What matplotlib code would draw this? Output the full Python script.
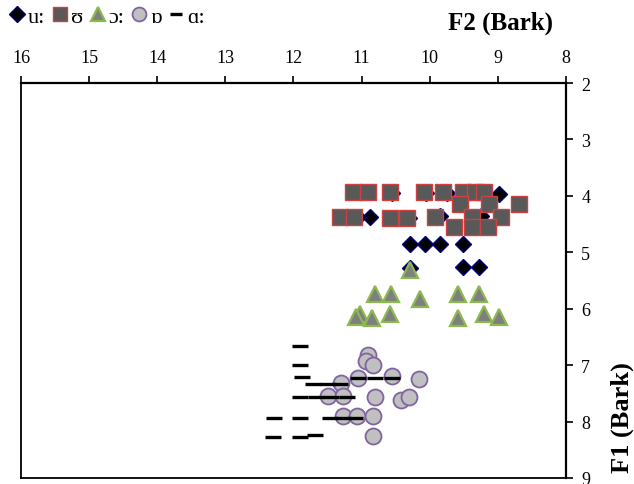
import matplotlib
matplotlib.use("Agg")
import matplotlib.pyplot as plt
from matplotlib.lines import Line2D

plt.rcParams['font.family'] = ['Liberation Serif', 'DejaVu Serif']

# F2 (x) and F1 (y) in Bark for each vowel
u_f2 = [8.99, 10.55, 10.05, 9.75, 9.45, 10.88, 11.05, 10.55, 10.30, 9.85, 9.25,
        10.29, 10.07, 9.85, 9.51, 10.29, 9.51, 9.27]
u_f1 = [3.97, 3.95, 3.95, 3.95, 3.95, 4.37, 4.38, 4.40, 4.40, 4.36, 4.36,
        4.86, 4.86, 4.86, 4.86, 5.28, 5.26, 5.26]

U_f2 = [11.12, 10.90, 10.59, 10.09, 9.81, 9.51, 9.33, 9.21,
        9.55, 9.13, 8.69,
        11.32, 11.11, 10.59, 10.34, 9.92, 9.38, 8.95,
        9.65, 9.38, 9.14]
U_f1 = [3.94, 3.94, 3.94, 3.94, 3.94, 3.94, 3.94, 3.94,
        4.15, 4.15, 4.15,
        4.38, 4.38, 4.39, 4.39, 4.38, 4.38, 4.38,
        4.56, 4.56, 4.56]

o_f2 = [10.29, 10.80, 10.57, 10.15, 9.58, 9.27,
        11.03, 11.08, 10.85, 10.58, 9.59, 9.21, 8.99]
o_f1 = [5.31, 5.74, 5.74, 5.82, 5.74, 5.74,
        6.10, 6.15, 6.17, 6.09, 6.16, 6.10, 6.15]

O_f2 = [10.90, 10.93, 10.84, 11.05, 10.55, 10.16, 10.81, 10.42, 10.31,
        11.30, 11.49, 11.27, 11.28, 11.07, 10.84, 10.84]
O_f1 = [6.82, 6.93, 6.99, 7.22, 7.20, 7.25, 7.56, 7.61, 7.56,
        7.32, 7.54, 7.54, 7.91, 7.91, 7.91, 8.25]

a_f2 = [11.90, 11.90, 11.88, 11.72, 11.50, 11.32,
        11.90, 11.67, 11.45, 11.21,
        12.28, 11.90, 11.46, 11.27, 11.10,
        12.30, 11.90, 11.68,
        11.05, 10.80, 10.55]
a_f1 = [6.66, 7.00, 7.21, 7.34, 7.34, 7.34,
        7.57, 7.57, 7.57, 7.57,
        7.93, 7.93, 7.93, 7.93, 7.93,
        8.27, 8.27, 8.24,
        7.22, 7.22, 7.22]

labels = ['u:', 'ʊ', 'ɔ:', 'ɒ', 'ɑ:']
x_ticks = [16, 15, 14, 13, 12, 11, 10, 9, 8]
y_ticks = [2, 3, 4, 5, 6, 7, 8, 9]

fig = plt.figure(figsize=(6.34, 4.85), dpi=100)
ax = fig.add_axes([0.0331, 0.0124, 0.8596, 0.8144])

styles = [
    dict(marker='D', ms=8.0, mfc='black', mec='#000080', mew=1.0),
    dict(marker='s', ms=11.0, mfc='#595959', mec='#d04040', mew=1.0),
    dict(marker='^', ms=11.5, mfc='#7f7f7f', mec='#8cb850', mew=1.6),
    dict(marker='o', ms=11.5, mfc='#c0c0c0', mec='#8064a2', mew=1.3),
    dict(marker='_', ms=11.5, mfc='black', mec='black', mew=2.4),
]
series = [(u_f2, u_f1), (U_f2, U_f1), (o_f2, o_f1), (O_f2, O_f1), (a_f2, a_f1)]
for (xs, ys), st, z in zip(series, styles, [2, 3, 4, 4, 5]):
    ax.plot(xs, ys, ls='none', zorder=z, **st)

ax.set_xlim(16, 8)
ax.set_ylim(9, 2)
ax.set_xticks(x_ticks)
ax.set_yticks(y_ticks)
ax.xaxis.tick_top()
ax.yaxis.tick_right()
ax.tick_params(axis='both', direction='out', length=5, width=1.2,
               labelsize=13, colors='black')
ax.tick_params(axis='x', pad=7)
ax.tick_params(axis='y', pad=6)
for side in ['top', 'right']:
    ax.spines[side].set_linewidth(1.6)
for side in ['left', 'bottom']:
    ax.spines[side].set_linewidth(1.3)

fig.text(0.79, 0.952, 'F2 (Bark)', fontsize=18, fontweight='bold',
         ha='center', va='center')
fig.text(0.982, 0.14, 'F1 (Bark)', fontsize=19, fontweight='bold',
         rotation=90, ha='center', va='center')

handles = [Line2D([], [], ls='none', **st) for st in styles]
handles[0].set_markersize(8)
handles[1].set_markersize(10)
handles[2].set_markersize(10)
handles[3].set_markersize(10)
handles[4].set_markersize(8)
fig.legend(handles, labels, loc='upper left', bbox_to_anchor=(0.0, 1.008),
           ncol=5, frameon=False, fontsize=16, handlelength=0.55,
           handletextpad=0.2, columnspacing=0.4, borderaxespad=0.1)

fig.savefig('out.png', dpi=100)
